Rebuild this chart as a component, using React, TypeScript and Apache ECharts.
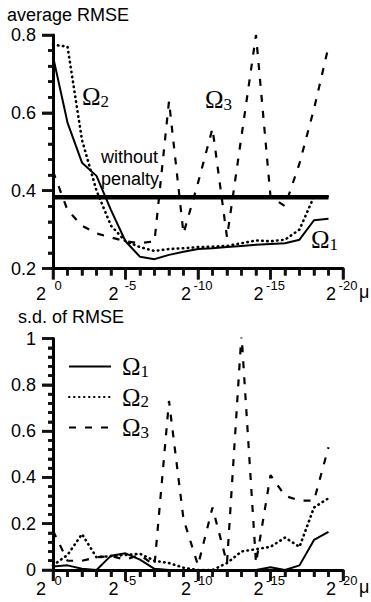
import React, { useEffect, useRef } from "react";
import * as echarts from "echarts";

// exponents k of mu = 2^-k
const exponents = [0, 1, 2, 3, 4, 5, 6, 7, 8, 9, 10, 11, 12, 13, 14, 15, 16, 17, 18, 19];

// average RMSE
const avgOmega1 = [0.745, 0.575, 0.472, 0.438, 0.35, 0.27, 0.23, 0.224, 0.235, 0.243, 0.25, 0.252, 0.255, 0.258, 0.261, 0.263, 0.265, 0.274, 0.324, 0.328];
const avgOmega2 = [0.775, 0.77, 0.53, 0.4, 0.31, 0.27, 0.255, 0.245, 0.25, 0.252, 0.255, 0.256, 0.258, 0.265, 0.272, 0.27, 0.274, 0.3, 0.385, 0.385];
const avgOmega3 = [0.45, 0.35, 0.31, 0.29, 0.28, 0.27, 0.265, 0.27, 0.63, 0.29, 0.42, 0.56, 0.28, 0.54, 0.8, 0.385, 0.36, 0.47, 0.61, 0.77];
const withoutPenalty = 0.383;

// s.d. of RMSE
const sdOmega1 = [0.015, 0.02, 0.005, 0, 0.062, 0.072, 0.045, 0.005, 0, 0, 0, 0, 0, 0, 0, 0.012, 0, 0.02, 0.13, 0.165];
const sdOmega2 = [0.02, 0.065, 0.155, 0.055, 0.06, 0.065, 0.07, 0.04, 0.03, 0.01, 0, 0, 0.03, 0.08, 0.09, 0.1, 0.14, 0.1, 0.27, 0.31];
const sdOmega3 = [0.17, 0.04, 0.04, 0.055, 0.06, 0.045, 0.065, 0.02, 0.73, 0.22, 0.02, 0.27, 0.03, 1.02, 0.03, 0.41, 0.32, 0.3, 0.3, 0.53];

const xTickExponents = [0, 5, 10, 15, 20];
const avgTicks = [0.2, 0.4, 0.6, 0.8];
const sdTicks = [0, 0.2, 0.4, 0.6, 0.8, 1];
const minorPerMajor = 5;

const SANS = "Liberation Sans";
const SERIF = "Liberation Serif";

// layout (pixels)
const GRID_LEFT = 53;
const GRID_WIDTH = 290;
const GRIDS = [
  { top: 35, height: 233.5, ticks: avgTicks },
  { top: 338.5, height: 231.5, ticks: sdTicks },
];
const MAJOR_TICK = 11;
const X_MINOR_TICK = 7;
const Y_MINOR_TICK = 5;

const toPairs = (vals: number[]) => exponents.map((k, i) => [k, vals[i]]);

const omegaRich = {
  o: { fontFamily: SERIF, fontSize: 25, lineHeight: 26, color: "#000" },
  s: { fontFamily: SERIF, fontSize: 17, lineHeight: 14, verticalAlign: "bottom", color: "#000" },
};

function xAxis(gridIndex: number, margin: number) {
  return {
    type: "value",
    gridIndex,
    min: xTickExponents[0],
    max: xTickExponents[xTickExponents.length - 1],
    interval: xTickExponents[1] - xTickExponents[0],
    axisLine: { show: true, onZero: false, lineStyle: { color: "#000", width: 3 } },
    axisTick: { show: true, length: MAJOR_TICK, lineStyle: { color: "#000", width: 2.5 } },
    minorTick: { show: true, splitNumber: minorPerMajor, length: X_MINOR_TICK, lineStyle: { color: "#000", width: 2.5 } },
    splitLine: { show: false },
    axisLabel: {
      margin,
      formatter: (v: number) => `{g|}{s|${v === 0 ? "0" : "-" + v}}\n{b|2}{h|}`,
      rich: {
        g: { width: 10, fontSize: 12, lineHeight: 5 },
        s: { fontFamily: SANS, fontSize: 13, lineHeight: 5, width: 24, align: "left", color: "#000" },
        b: { fontFamily: SANS, fontSize: 18, lineHeight: 12, width: 18, align: "right", color: "#000" },
        h: { width: 24, fontSize: 12, lineHeight: 12 },
      },
    },
  };
}

function yAxis(gridIndex: number, ticks: number[]) {
  return {
    type: "value",
    gridIndex,
    min: ticks[0],
    max: ticks[ticks.length - 1],
    interval: ticks[1] - ticks[0],
    axisLine: { show: true, onZero: false, lineStyle: { color: "#000", width: 3 } },
    axisTick: { show: true, length: MAJOR_TICK, lineStyle: { color: "#000", width: 2.5 } },
    minorTick: { show: true, splitNumber: minorPerMajor, length: Y_MINOR_TICK, lineStyle: { color: "#000", width: 2.5 } },
    splitLine: { show: false },
    axisLabel: {
      margin: 17,
      fontFamily: SANS,
      fontSize: 18,
      color: "#000",
      formatter: (v: number) => String(Number(v.toFixed(2))),
    },
  };
}

// tick marks as graphic lines, positioned with the same linear mapping as the grids
function tickGraphics() {
  const out: any[] = [];
  const xMin = xTickExponents[0];
  const xMax = xTickExponents[xTickExponents.length - 1];
  const xStep = (xTickExponents[1] - xTickExponents[0]) / minorPerMajor;
  const nx = Math.round((xMax - xMin) / xStep);
  const tickStyle = { stroke: "#111", lineWidth: 2.5 };
  GRIDS.forEach((g) => {
    const yMin = g.ticks[0];
    const yMax = g.ticks[g.ticks.length - 1];
    const bottom = g.top + g.height;
    for (let i = 0; i <= nx; i++) {
      const v = xMin + i * xStep;
      const px = GRID_LEFT + ((v - xMin) / (xMax - xMin)) * GRID_WIDTH;
      const len = i % minorPerMajor === 0 ? MAJOR_TICK : X_MINOR_TICK;
      out.push({ type: "line", silent: true, z: 100, shape: { x1: px, y1: bottom, x2: px, y2: bottom + len }, style: tickStyle });
    }
    const yStep = (g.ticks[1] - g.ticks[0]) / minorPerMajor;
    const ny = Math.round((yMax - yMin) / yStep);
    for (let i = 0; i <= ny; i++) {
      const v = yMin + i * yStep;
      const py = g.top + ((yMax - v) / (yMax - yMin)) * g.height;
      const len = i % minorPerMajor === 0 ? MAJOR_TICK : Y_MINOR_TICK;
      out.push({ type: "line", silent: true, z: 100, shape: { x1: GRID_LEFT - len, y1: py, x2: GRID_LEFT, y2: py }, style: tickStyle });
    }
  });
  return out;
}

const solidStyle = { color: "#000", width: 2, type: "solid" };
const dottedStyle = { color: "#000", width: 2.6, type: [0.5, 4.5], cap: "round" };
const dashedStyle = { color: "#000", width: 2.2, type: [7, 9] };

function lineSeries(name: string, vals: number[], idx: number, style: any) {
  return {
    type: "line",
    name,
    xAxisIndex: idx,
    yAxisIndex: idx,
    data: toPairs(vals),
    symbol: "none",
    lineStyle: style,
    itemStyle: { color: "#000" },
  };
}

const textGraphics = [
  { type: "text", left: 7, top: 6, style: { text: "average RMSE", fontFamily: SANS, fontSize: 18, fill: "#000" } },
  { type: "text", left: 18, top: 308, style: { text: "s.d. of RMSE", fontFamily: SANS, fontSize: 18, fill: "#000" } },
  { type: "text", left: 101, top: 146, style: { text: "without\npenalty", fontFamily: SANS, fontSize: 18, lineHeight: 22, fill: "#000" } },
  { type: "text", left: 82, top: 84, style: { text: "{o|Ω}{s|2}", rich: omegaRich } },
  { type: "text", left: 205, top: 87, style: { text: "{o|Ω}{s|3}", rich: omegaRich } },
  { type: "text", left: 311, top: 227, style: { text: "{o|Ω}{s|1}", rich: omegaRich } },
  { type: "text", left: 359, top: 283, style: { text: "μ", fontFamily: SANS, fontSize: 18, fill: "#000" } },
  { type: "text", left: 359, top: 578, style: { text: "μ", fontFamily: SANS, fontSize: 18, fill: "#000" } },
];

export default function App() {
  const ref = useRef<HTMLDivElement>(null);
  useEffect(() => {
    if (!ref.current) return;
    const chart = echarts.init(ref.current, null, { renderer: "svg" });
    const option: any = {
      animation: false,
      backgroundColor: "#fff",
      grid: GRIDS.map((g) => ({ left: GRID_LEFT, top: g.top, width: GRID_WIDTH, height: g.height })),
      xAxis: [xAxis(0, 14), xAxis(1, 8)],
      yAxis: [yAxis(0, avgTicks), yAxis(1, sdTicks)],
      legend: {
        data: ["Ω1", "Ω2", "Ω3"],
        orient: "vertical",
        left: 63,
        top: 349,
        itemWidth: 42,
        itemHeight: 12,
        itemGap: 5,
        selectedMode: false,
        itemStyle: { opacity: 0 },
        formatter: (n: string) => `{o|Ω}{s|${n.slice(1)}}`,
        textStyle: {
          rich: {
            o: { ...omegaRich.o, padding: [0, 0, 0, 6] },
            s: omegaRich.s,
          },
        },
      },
      series: [
        lineSeries("Ω1", avgOmega1, 0, solidStyle),
        lineSeries("Ω2", avgOmega2, 0, dottedStyle),
        lineSeries("Ω3", avgOmega3, 0, dashedStyle),
        {
          ...lineSeries("without penalty", exponents.map(() => withoutPenalty), 0, { color: "#000", width: 4.5, type: "solid" }),
          z: 5,
        },
        lineSeries("Ω1", sdOmega1, 1, solidStyle),
        lineSeries("Ω2", sdOmega2, 1, dottedStyle),
        lineSeries("Ω3", sdOmega3, 1, dashedStyle),
      ],
      graphic: [...textGraphics, ...tickGraphics()],
    };
    chart.setOption(option);
    return () => chart.dispose();
  }, []);
  return <div ref={ref} style={{ position: "fixed", left: 0, top: 0, width: 371, height: 602 }} />;
}
